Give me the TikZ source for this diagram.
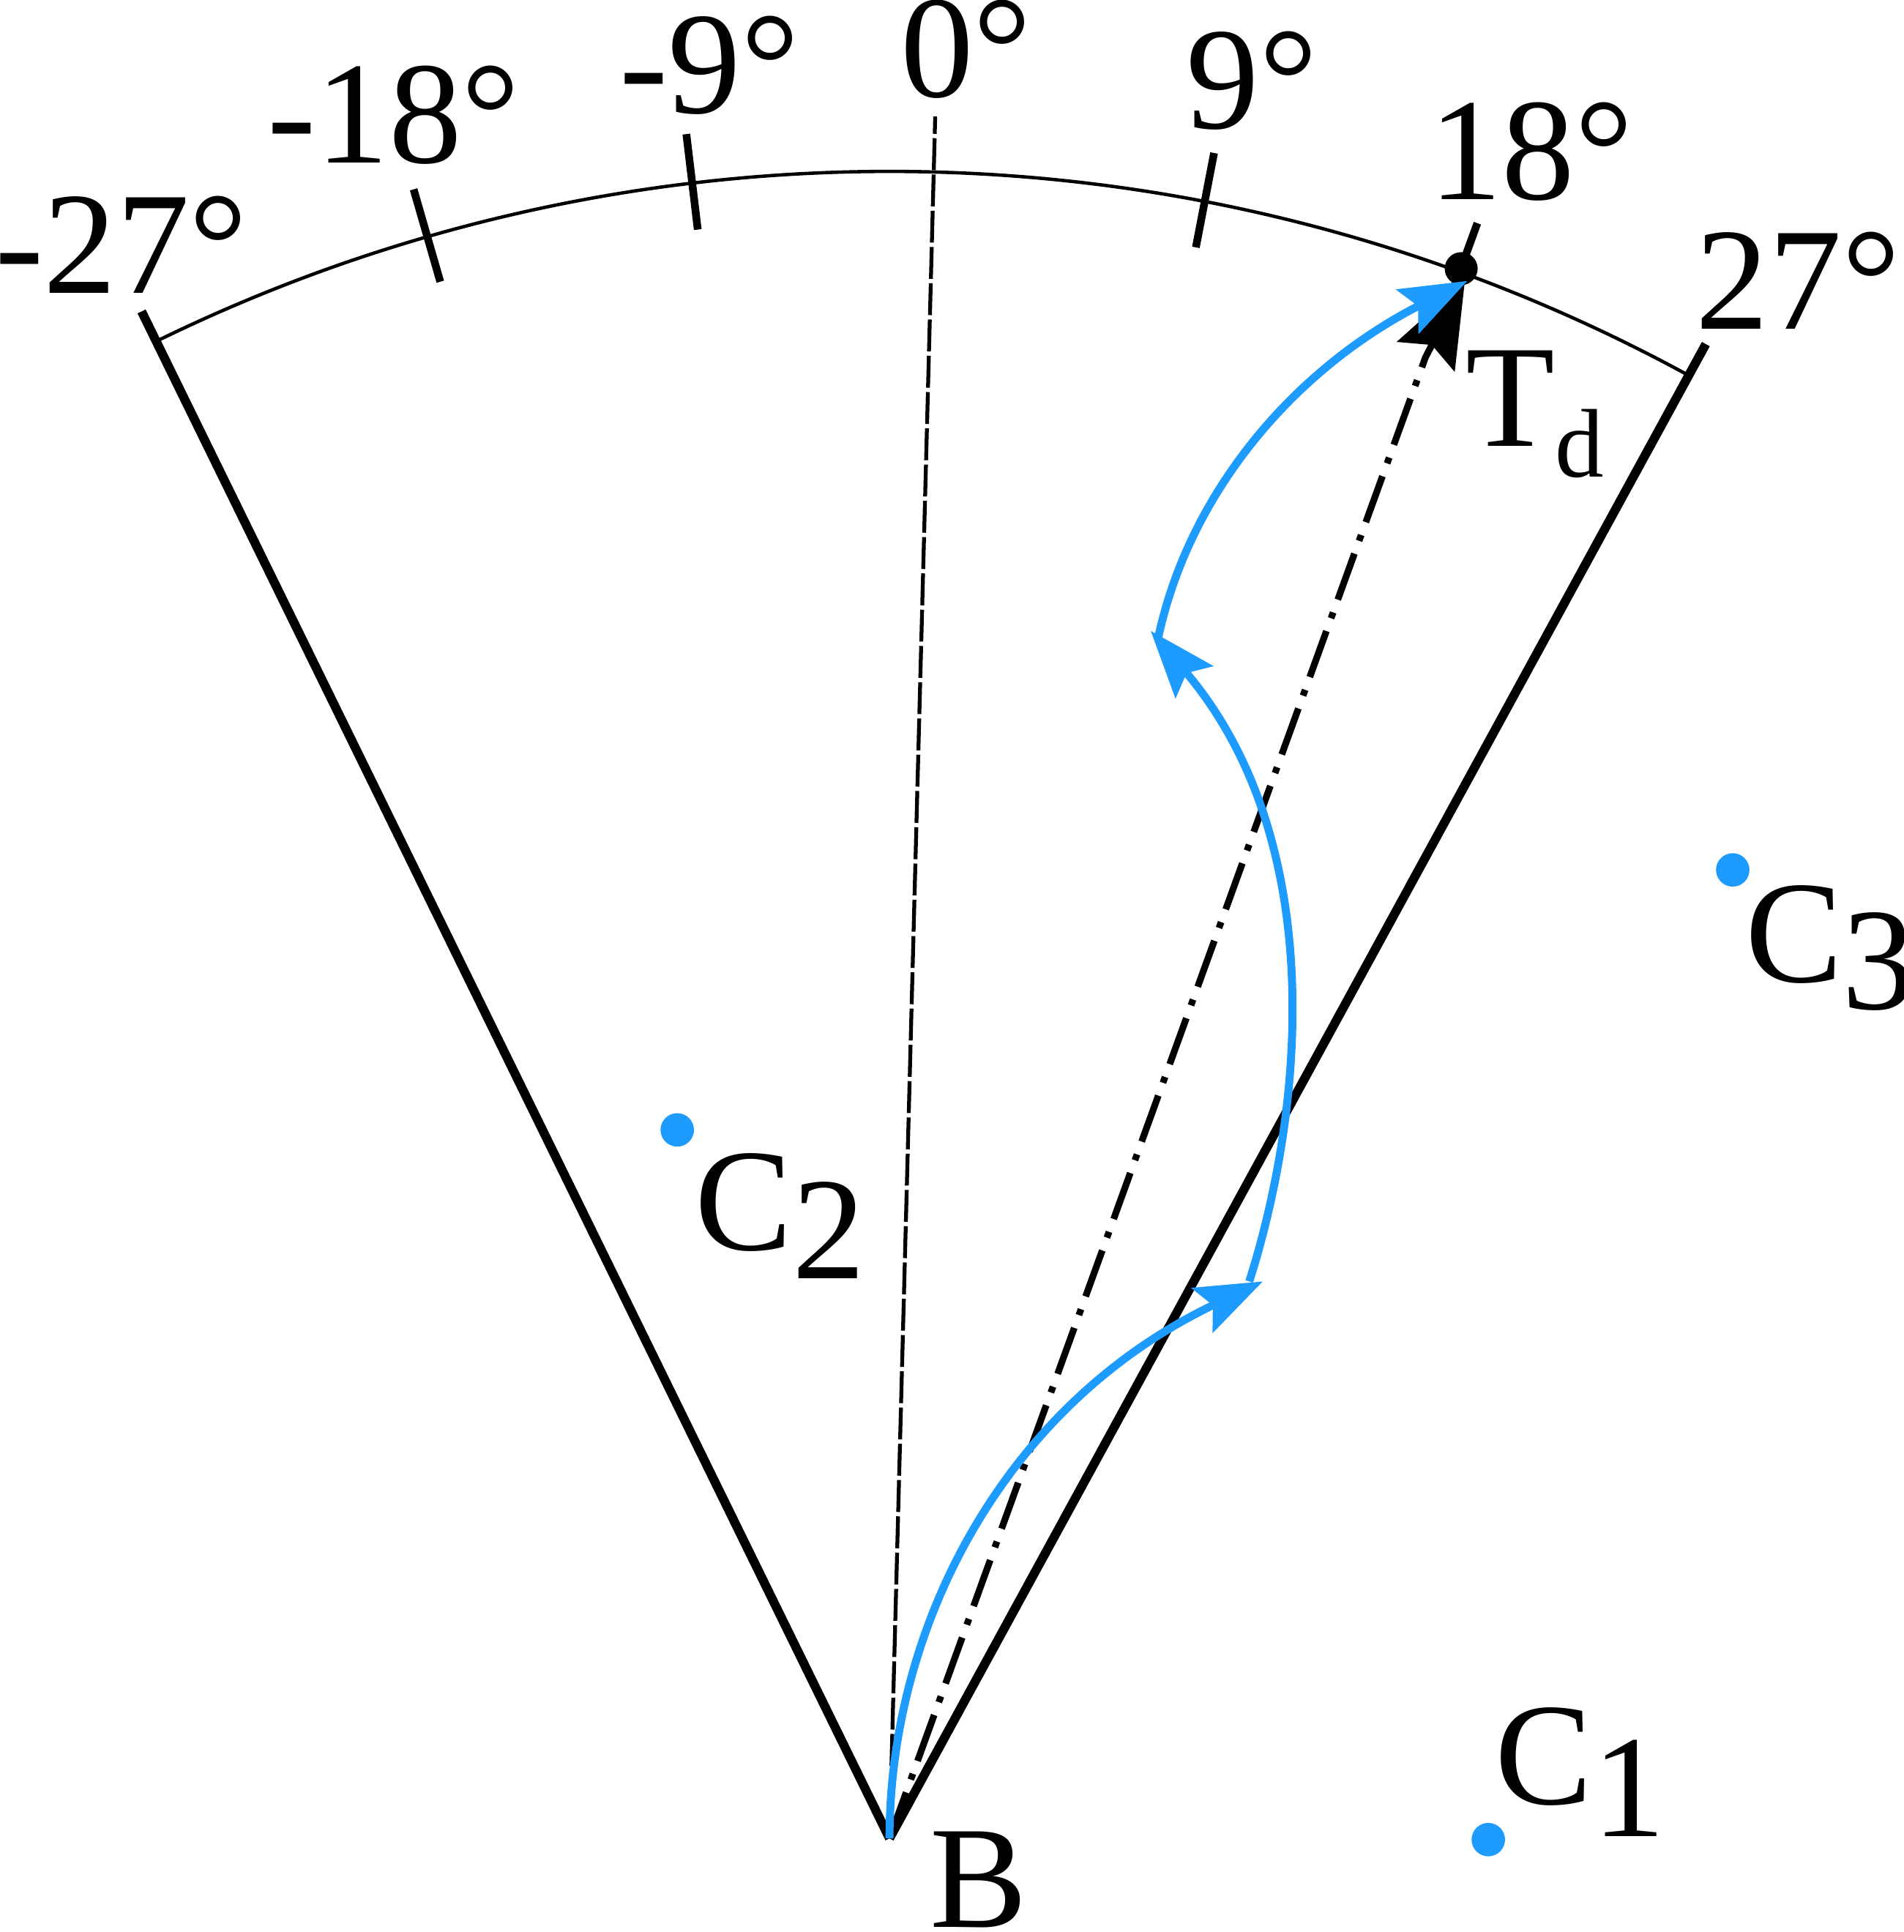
\documentclass[tikz,border=0pt]{standalone}
\usepackage{fontspec}
\setmainfont{Liberation Serif}
\usetikzlibrary{arrows.meta}
\definecolor{cblue}{RGB}{29,155,255}
\begin{document}
\begin{tikzpicture}[x=0.016828cm,y=-0.016828cm,
  lbl/.style={inner sep=0pt,outer sep=0pt,anchor=base west,font=\fontsize{56.7}{60}\selectfont},
  sectorline/.style={line width=3.5pt},
  tickmark/.style={line width=3pt},
  arcline/.style={line width=1.3pt},
  zeroline/.style={line width=1.5pt,dash pattern=on 12.4pt off 1.7pt},
  dirline/.style={line width=2.6pt,dash pattern=on 19pt off 5.3pt on 2.4pt off 5.3pt,
    -{Stealth[length=33pt,width=25pt,inset=5pt]}},
  bluearrow/.style={cblue,line width=3.1pt,-{Stealth[length=26pt,width=19pt,inset=4.5pt]}},
  bluedot/.style={circle,fill=cblue,inner sep=0pt,minimum size=13pt},
  blackdot/.style={circle,fill=black,inner sep=0pt,minimum size=12.8pt}]
\useasboundingbox (0,0) rectangle (1545,1568);

\coordinate (B) at (722,1492);

\begin{scope}[shift={(B)},yscale=-1]
  \coordinate (Lend) at (116.1:1380);
  \coordinate (Rend) at (61.35:1382);
  \coordinate (Zend) at (88.48:1398);
  \coordinate (Arc0) at (116.1:1353);
  \coordinate (k1a) at (106.1:1315); \coordinate (k1b) at (106.1:1393);
  \coordinate (k2a) at (96.8:1315);  \coordinate (k2b) at (96.8:1393);
  \coordinate (k3a) at (79.1:1315);  \coordinate (k3b) at (79.1:1393);
  \coordinate (k4a) at (70.0:1315);  \coordinate (k4b) at (70.0:1395);
  \draw[arcline] (Arc0) arc[start angle=116.1,end angle=61.35,radius=1353];
\end{scope}

% sector borders
\draw[sectorline] (B) -- (Lend);
\draw[sectorline] (B) -- (Rend);
% ticks
\draw[tickmark] (k1a) -- (k1b);
\draw[tickmark] (k2a) -- (k2b);
\draw[tickmark] (k3a) -- (k3b);
\draw[tickmark] (k4a) -- (k4b);
% 0 degree line
\draw[zeroline] (B) -- (Zend);

% target direction
\coordinate (Tb) at (1157,290);
\coordinate (Ttip) at (1189,228);
\draw[dirline] (B) -- (Tb) -- (Ttip);
\node[blackdot] (Tdot) at (1186,218) {};

% blue path
\coordinate (a1) at (1025,1040);
\coordinate (s2) at (1014,1040);
\coordinate (a2) at (934,512);
\coordinate (s3) at (940,518);
\coordinate (a3) at (1191,228);
\draw[bluearrow] (B) .. controls (722,1320) and (815,1140) .. (a1);
\draw[bluearrow] (s2) .. controls (1060,895) and (1077,680) .. (a2);
\draw[bluearrow] (s3) .. controls (965,400) and (1050,300) .. (a3);

% candidate points
\node[bluedot] (c1dot) at (1208,1493) {};
\node[bluedot] (c2dot) at (549.7,917) {};
\node[bluedot] (c3dot) at (1406.4,706) {};

% labels
\node[lbl] (lm27) at (-4,238) {-27°};
\node[lbl] (lm18) at (217,132) {-18°};
\node[lbl] (lm9) at (503,92) {-9°};
\node[lbl] (l0) at (731,79) {0°};
\node[lbl] (l9) at (963,104) {9°};
\node[lbl] (l18) at (1160,162) {18°};
\node[lbl] (l27) at (1376.5,267) {27°};
\node[lbl] (lTd) at (1190,362) {T\raisebox{-12pt}{\fontsize{37.9}{40}\selectfont d}};
\node[lbl] (lB) at (755,1564) {B};
\node[lbl] (lC2) at (564.2,1014.7) {C\raisebox{-11pt}{2}};
\node[lbl] (lC3) at (1416.5,797) {C\raisebox{-10.5pt}{3}};
\node[lbl] (lC1) at (1213.7,1464.5) {C\raisebox{-12.5pt}{1}};
\end{tikzpicture}
\end{document}
